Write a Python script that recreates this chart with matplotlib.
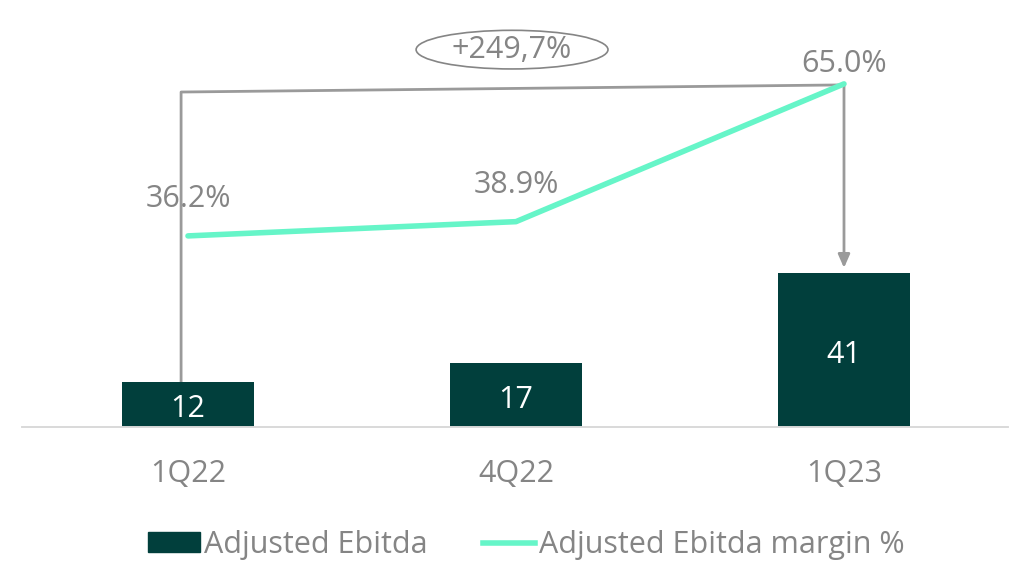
import matplotlib.pyplot as plt
from matplotlib.patches import Ellipse, Patch
from matplotlib.lines import Line2D

# === 数据 ===
quarters = ["1Q22", "4Q22", "1Q23"]
ebitda = [12, 17, 41]
margin = [36.2, 38.9, 65.0]
growth_label = "+249,7%"

BAR_COLOR = "#013f3c"
LINE_COLOR = "#66f5c8"
GRAY = "#858585"
BRACKET = "#9a9a9a"
FS = 22

plt.rcParams["font.family"] = ["Open Sans", "DejaVu Sans"]

fig = plt.figure(figsize=(10.12, 5.62), dpi=100)
ax = fig.add_axes([22 / 1012, 1 - 427 / 562, 986 / 1012, 407 / 562])
ax2 = ax.twinx()

x = list(range(len(quarters)))
ax.bar(x, ebitda, width=0.405, color=BAR_COLOR, zorder=2)
for xi, v in zip(x, ebitda):
    ax.text(xi, v / 2 - 1.2, str(v), ha="center", va="center", color="white", fontsize=FS)

ax2.plot(x, margin, color=LINE_COLOR, lw=4, solid_capstyle="round", zorder=3)
label_off = [7.0, 7.0, 3.8]
for xi, m, off in zip(x, margin, label_off):
    ax2.text(xi, m + off, f"{m:.1f}%", ha="center", va="center", color=GRAY, fontsize=FS)

ax.set_xlim(-0.506, 2.5)
ax.set_ylim(0, 108.5)
ax2.set_ylim(0, 77.1)
ax.set_xticks(x)
ax.set_xticklabels(quarters, color=GRAY, fontsize=FS)
ax.tick_params(axis="x", length=0, pad=34)
for lbl in ax.get_xticklabels():
    lbl.set_va("center")
ax.set_yticks([])
ax2.set_yticks([])
for a in (ax, ax2):
    for s in ("top", "left", "right"):
        a.spines[s].set_visible(False)
    a.spines["bottom"].set_color("#d9d9d9")
    a.spines["bottom"].set_linewidth(1.2)

# 增长括号
bx = -0.021
ax.plot([bx, bx, 2.0], [ebitda[0], 89.3, 91.2], color=BRACKET, lw=2, zorder=1)
ax.annotate("", xy=(2.0, ebitda[2] + 1.4), xytext=(2.0, 91.4),
            arrowprops=dict(arrowstyle="-|>,head_width=0.35,head_length=0.8",
                            color=BRACKET, lw=2, shrinkA=0, shrinkB=0))
ax.add_patch(Ellipse((0.988, 100.6), 0.585, 10.3, fill=False, edgecolor=GRAY, lw=1.2,
                     clip_on=False))
ax.text(0.988, 100.6, growth_label, ha="center", va="center", color=GRAY, fontsize=FS)

handles = [Patch(color=BAR_COLOR), Line2D([0], [0], color=LINE_COLOR, lw=4)]
fig.legend(handles, ["Adjusted Ebitda", "Adjusted Ebitda margin %"], loc="center",
           bbox_to_anchor=(0.52, 1 - 545 / 562), ncol=2, frameon=False, fontsize=FS,
           labelcolor=GRAY, handlelength=1.7, handleheight=0.65, handletextpad=0.15,
           columnspacing=1.8, borderpad=0)

fig.savefig("out.png", dpi=100)
